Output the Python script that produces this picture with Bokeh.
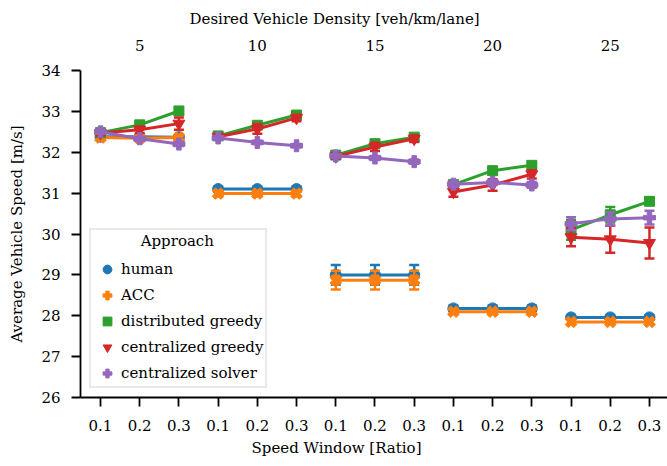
from bokeh.plotting import figure
from bokeh.models import LinearAxis, FixedTicker, Legend, LegendItem, Range1d, Title, Grid
from bokeh.embed import file_html
from bokeh.resources import INLINE

# ---- data ----
densities = ["5", "10", "15", "20", "25"]
windows = ["0.1", "0.2", "0.3"]

human = [32.38, 32.38, 32.37, 31.10, 31.10, 31.10, 29.00, 29.00, 29.00, 28.18, 28.18, 28.18, 27.96, 27.96, 27.96]
human_err = [0.05, 0.05, 0.05, 0.06, 0.06, 0.06, 0.24, 0.24, 0.24, 0.07, 0.07, 0.07, 0.06, 0.06, 0.06]
acc = [32.36, 32.34, 32.36, 30.99, 30.99, 30.99, 28.87, 28.87, 28.87, 28.10, 28.10, 28.10, 27.85, 27.85, 27.85]
acc_err = [0.05, 0.05, 0.05, 0.07, 0.07, 0.07, 0.23, 0.23, 0.23, 0.06, 0.06, 0.06, 0.05, 0.05, 0.05]
dist_greedy = [32.48, 32.67, 33.01, 32.40, 32.66, 32.91, 31.93, 32.21, 32.37, 31.21, 31.55, 31.68, 30.10, 30.47, 30.80]
dist_greedy_err = [0.05, 0.06, 0.08, 0.05, 0.06, 0.06, 0.05, 0.05, 0.05, 0.05, 0.06, 0.06, 0.24, 0.19, 0.08]
cent_greedy = [32.47, 32.55, 32.70, 32.38, 32.57, 32.84, 31.90, 32.13, 32.33, 31.03, 31.20, 31.46, 29.92, 29.87, 29.78]
cent_greedy_err = [0.06, 0.08, 0.15, 0.04, 0.12, 0.08, 0.05, 0.10, 0.08, 0.12, 0.14, 0.10, 0.22, 0.33, 0.38]
cent_solver = [32.50, 32.33, 32.20, 32.35, 32.24, 32.16, 31.91, 31.86, 31.77, 31.22, 31.26, 31.20, 30.25, 30.37, 30.40]
cent_solver_err = [0.05, 0.05, 0.05, 0.04, 0.04, 0.04, 0.04, 0.05, 0.05, 0.07, 0.06, 0.07, 0.16, 0.16, 0.17]

series = [
    ("human", human, human_err, "#1f77b4", "circle", 11, 0.0),
    ("ACC", acc, acc_err, "#ff7f0e", "plus", 12, 0.785398),
    ("distributed greedy", dist_greedy, dist_greedy_err, "#2ca02c", "square", 10, 0.0),
    ("centralized greedy", cent_greedy, cent_greedy_err, "#d62728", "inverted_triangle", 12, 0.0),
    ("centralized solver", cent_solver, cent_solver_err, "#9467bd", "plus", 12, 0.0),
]

FONT = "DejaVu Serif"
xs = [g * 3 + k for g in range(len(densities)) for k in range(len(windows))]

p = figure(width=667, height=466, x_range=Range1d(-0.51, 14.46), y_range=Range1d(26, 34),
           output_backend="svg", toolbar_location=None,
           x_axis_location=None, y_axis_location=None,
           min_border_left=80, min_border_right=0, min_border_top=70, min_border_bottom=69)
p.outline_line_color = None
p.background_fill_color = "white"
p.border_fill_color = "white"
for r in list(p.center):
    if isinstance(r, Grid):
        r.visible = False

def style_axis(ax):
    ax.axis_line_color = "black"
    ax.axis_line_width = 1.8
    ax.major_tick_line_color = "black"
    ax.major_tick_line_width = 1.8
    ax.major_tick_in = 0
    ax.major_tick_out = 9
    ax.minor_tick_line_color = None
    ax.major_label_text_font = FONT
    ax.major_label_text_font_size = "15px"
    ax.major_label_text_color = "black"
    ax.axis_label_text_font = FONT
    ax.axis_label_text_font_size = "15px"
    ax.axis_label_text_font_style = "normal"
    ax.axis_label_text_color = "black"

yaxis = LinearAxis(ticker=FixedTicker(ticks=list(range(26, 35))), axis_label="Average Vehicle Speed [m/s]")
style_axis(yaxis)
yaxis.major_label_standoff = 11
yaxis.axis_label_standoff = 12
p.add_layout(yaxis, "left")

xaxis = LinearAxis(ticker=FixedTicker(ticks=xs),
                   major_label_overrides={x: windows[i % 3] for i, x in enumerate(xs)})
style_axis(xaxis)
xaxis.major_label_standoff = 13
p.add_layout(xaxis, "below")

centers = [g * 3 + 1 for g in range(len(densities))]
taxis = LinearAxis(ticker=FixedTicker(ticks=centers),
                   major_label_overrides={c: d for c, d in zip(centers, densities)})
style_axis(taxis)
taxis.axis_line_color = None
taxis.major_tick_line_color = None
taxis.major_tick_out = 0
taxis.major_label_standoff = 20
p.add_layout(taxis, "above")

top_title = Title(text="Desired Vehicle Density [veh/km/lane]", align="left", offset=109,
                  standoff=13, vertical_align="top", text_font=FONT,
                  text_font_size="15px", text_font_style="normal", text_color="black")
p.add_layout(top_title, "above")
bottom_title = Title(text="Speed Window [Ratio]", align="left", offset=171,
                     standoff=6, vertical_align="bottom", text_font=FONT,
                     text_font_size="15px", text_font_style="normal", text_color="black")
p.add_layout(bottom_title, "below")

items = []
for name, ys, es, color, marker, size, ang in series:
    lo = [y - e for y, e in zip(ys, es)]
    hi = [y + e for y, e in zip(ys, es)]
    p.segment(x0=xs, y0=lo, x1=xs, y1=hi, line_color=color, line_width=2.5)
    p.scatter(x=xs + xs, y=lo + hi, marker="dash", size=10, line_color=color, line_width=2.5)
    mx = [xs[g * 3:(g + 1) * 3] for g in range(len(densities))]
    my = [ys[g * 3:(g + 1) * 3] for g in range(len(densities))]
    p.multi_line(xs=mx, ys=my, line_color=color, line_width=3)
    r = p.scatter(x=xs, y=ys, marker=marker, size=size, angle=ang,
                  fill_color=color, line_color=color, line_width=1)
    items.append(LegendItem(label=name, renderers=[r]))

legend = Legend(items=items, location="bottom_left", title="\u00a0" * 10 + "Approach")
legend.margin = 9
legend.padding = 2
legend.spacing = 4
legend.glyph_height = 22
legend.glyph_width = 28
legend.label_height = 22
legend.label_standoff = 0
legend.label_text_font = FONT
legend.label_text_font_size = "15px"
legend.label_text_color = "black"
legend.title_text_font = FONT
legend.title_text_font_size = "15px"
legend.title_text_font_style = "normal"
legend.title_text_color = "black"
legend.title_standoff = 8
legend.border_line_color = "#d4d4d4"
legend.border_line_width = 2
legend.background_fill_alpha = 0.85
p.add_layout(legend)

open("out.html", "w").write(file_html(p, INLINE))
